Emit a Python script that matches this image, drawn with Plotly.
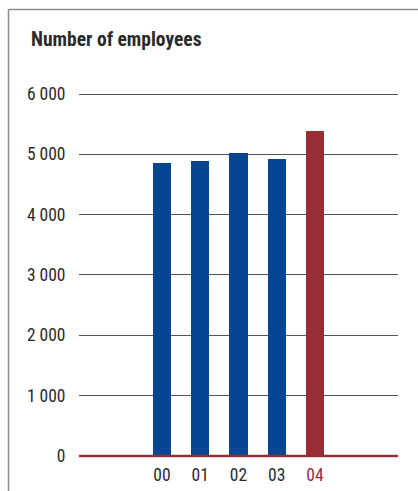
import plotly.graph_objects as go

# Headcount by year
years = ["00", "01", "02", "03", "04"]
employees = [4850, 4890, 5020, 4930, 5390]
bar_colors = ["#054594", "#054594", "#054594", "#054594", "#992d35"]
label_colors = ["#2b2b2b", "#2b2b2b", "#2b2b2b", "#2b2b2b", "#992d35"]

y_ticks = [0, 1000, 2000, 3000, 4000, 5000, 6000]
y_tick_text = ["0", "1 000", "2 000", "3 000", "4 000", "5 000", "6 000"]

FONT = "Roboto Condensed, Roboto, sans-serif"
RED = "#992d35"

x_pos = list(range(len(years)))

fig = go.Figure()
fig.add_trace(go.Bar(
    x=x_pos,
    y=employees,
    marker=dict(color=bar_colors, line=dict(width=0)),
    width=0.48,
    hoverinfo="skip",
))

# Baseline in red
fig.add_hline(y=0, line=dict(color=RED, width=2.5), layer="above")

# Frame: top and left rules
frame = dict(color="#8a8a8a", width=1.5)
fig.add_shape(type="line", xref="paper", yref="paper",
              x0=-0.221, x1=1.07, y0=1.2194, y1=1.2194, line=frame)
fig.add_shape(type="line", xref="paper", yref="paper",
              x0=-0.221, x1=-0.221, y0=1.2194, y1=-0.09, line=frame)

fig.update_layout(
    width=418, height=491,
    margin=dict(l=79, r=20, t=91, b=28.5, autoexpand=False),
    paper_bgcolor="white", plot_bgcolor="white",
    showlegend=False,
    font=dict(family=FONT, size=17, color="#2b2b2b"),
    title=dict(
        text="<b>Number of employees</b>",
        x=31 / 418, xanchor="left", xref="container",
        y=1 - 39 / 491, yanchor="middle", yref="container",
        font=dict(family=FONT, size=19.5, color="#2a2a2a"),
    ),
    bargap=0,
)
fig.update_xaxes(
    range=[-2.17, 6.17],
    tickmode="array",
    tickvals=x_pos,
    ticktext=[f"<span style='color:{c}'>{t}</span>" for t, c in zip(years, label_colors)],
    showgrid=False, zeroline=False, showline=False, automargin=False,
    ticks="",
    tickfont=dict(size=17.5),
)
fig.update_yaxes(
    range=[-100, 6050],
    tickmode="array",
    tickvals=y_ticks,
    ticktext=y_tick_text,
    showgrid=True, gridcolor="#555555", gridwidth=1,
    zeroline=False, showline=False, automargin=False,
    ticks="outside", ticklen=9, tickcolor="rgba(0,0,0,0)",
    tickfont=dict(size=17.5),
)

fig.write_html("out.html")
